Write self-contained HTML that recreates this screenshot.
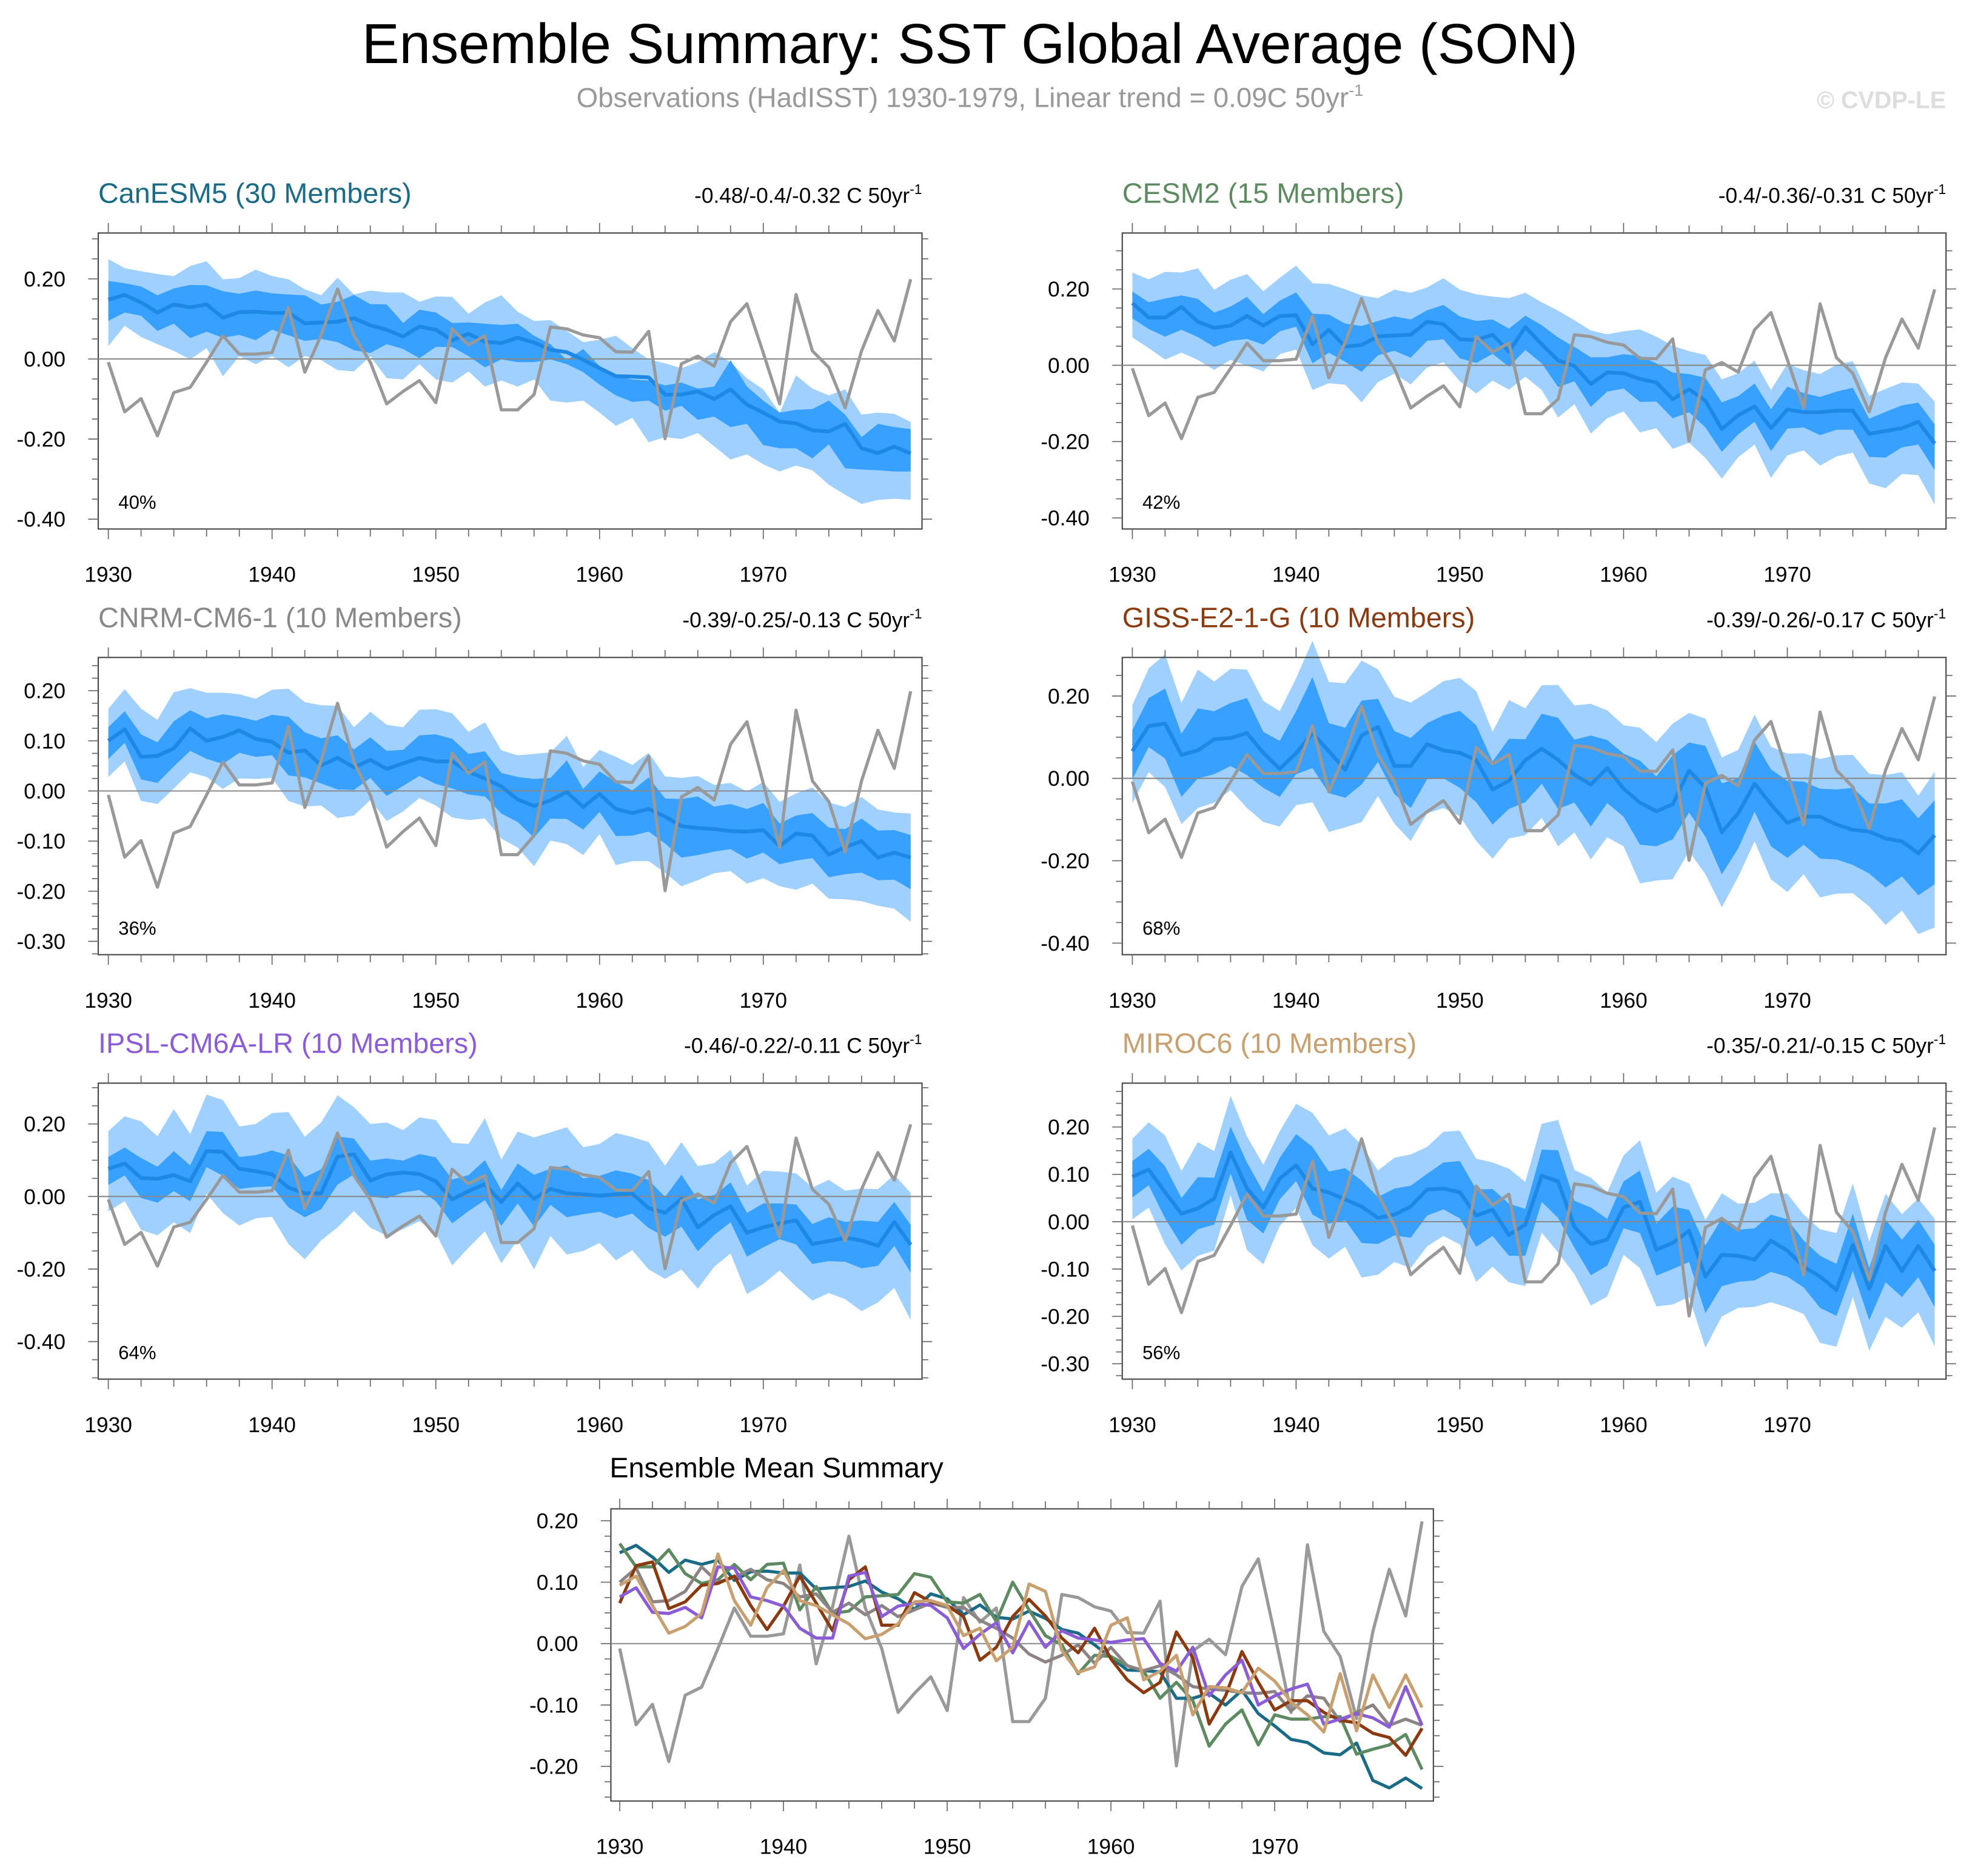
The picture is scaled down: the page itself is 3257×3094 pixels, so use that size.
<!DOCTYPE html>
<html><head><meta charset="utf-8"><style>
html,body{margin:0;padding:0;background:#fff}
svg{display:block;font-family:"Liberation Sans",sans-serif}
</style></head><body>
<svg id="chart" xmlns="http://www.w3.org/2000/svg" width="3257" height="3094" viewBox="0 0 1568 1489.5">
<rect x="0" y="0" width="1568" height="1489.5" fill="#fff"/>
<text x="770" y="50" font-size="44.5" text-anchor="middle" fill="#000">Ensemble Summary: SST Global Average (SON)</text>
<text x="770" y="85" font-size="22" text-anchor="middle" fill="#999">Observations (HadISST) 1930-1979, Linear trend = 0.09C 50yr<tspan font-size="13" dy="-9">-1</tspan></text>
<text x="1545" y="86" font-size="19" font-weight="bold" text-anchor="end" fill="#ddd">© CVDP-LE</text>
<g id="panels"></g>
</svg>
<script>
const startYear = 1930;
const obs = [-0.008,-0.132,-0.099,-0.192,-0.084,-0.071,-0.008,0.058,0.012,0.012,0.016,0.128,-0.033,0.06,0.175,0.058,-0.008,-0.112,-0.081,-0.054,-0.109,0.075,0.035,0.058,-0.127,-0.127,-0.089,0.08,0.075,0.06,0.053,0.018,0.017,0.069,-0.199,-0.012,0.007,-0.018,0.093,0.138,0.015,-0.112,0.161,0.02,-0.021,-0.122,0.02,0.121,0.045,0.199];
const canMean = [0.148,0.16,0.141,0.116,0.136,0.129,0.136,0.103,0.117,0.118,0.115,0.115,0.089,0.091,0.093,0.102,0.084,0.073,0.056,0.081,0.073,0.047,0.063,0.043,0.04,0.053,0.041,0.023,0.017,-0.002,-0.023,-0.043,-0.044,-0.046,-0.089,-0.089,-0.081,-0.1,-0.076,-0.114,-0.134,-0.156,-0.161,-0.178,-0.181,-0.162,-0.223,-0.235,-0.219,-0.236];
const canInHi = [0.195,0.189,0.181,0.159,0.176,0.185,0.184,0.169,0.163,0.171,0.164,0.161,0.159,0.136,0.143,0.16,0.137,0.136,0.09,0.123,0.116,0.09,0.091,0.088,0.085,0.088,0.058,0.037,-0.003,0.025,-0.018,-0.043,-0.051,-0.054,-0.066,-0.059,-0.074,-0.069,-0.003,-0.069,-0.104,-0.134,-0.127,-0.125,-0.104,-0.139,-0.195,-0.162,-0.17,-0.175];
const canInLo = [0.095,0.116,0.108,0.07,0.088,0.052,0.068,0.053,0.06,0.047,0.073,0.059,0.045,0.05,0.042,0.022,0.015,0.037,0.025,0.002,0.03,0.03,0.007,-0.021,-0.001,-0.008,-0.008,-0.001,-0.013,-0.033,-0.064,-0.091,-0.107,-0.104,-0.129,-0.117,-0.152,-0.144,-0.17,-0.162,-0.215,-0.223,-0.223,-0.248,-0.213,-0.273,-0.276,-0.278,-0.281,-0.281];
const canOutHi = [0.249,0.227,0.219,0.212,0.207,0.232,0.244,0.199,0.202,0.223,0.207,0.199,0.174,0.159,0.203,0.161,0.171,0.166,0.166,0.143,0.156,0.155,0.113,0.141,0.159,0.118,0.095,0.097,0.07,0.042,0.048,0.058,0.027,-0.001,-0.011,-0.023,-0.008,0.017,-0.008,-0.048,-0.076,-0.134,-0.041,-0.074,-0.091,-0.076,-0.139,-0.134,-0.137,-0.157];
const canOutLo = [0.032,0.083,0.055,0.037,0.02,-0.001,0.027,-0.043,0.007,-0.013,0.007,-0.021,0.007,-0.003,-0.028,-0.031,0.007,-0.048,-0.051,-0.013,-0.051,-0.059,-0.031,-0.069,-0.054,-0.069,-0.051,-0.104,-0.109,-0.104,-0.134,-0.167,-0.147,-0.208,-0.195,-0.2,-0.185,-0.218,-0.251,-0.238,-0.263,-0.281,-0.266,-0.278,-0.314,-0.339,-0.362,-0.352,-0.349,-0.352];
const cesmMean = [0.163,0.125,0.125,0.153,0.114,0.098,0.104,0.129,0.104,0.129,0.131,0.055,0.093,0.049,0.053,0.076,0.078,0.08,0.114,0.108,0.068,0.066,0.08,0.036,0.1,0.055,0.013,-0.002,-0.049,-0.019,-0.021,-0.036,-0.045,-0.089,-0.063,-0.093,-0.167,-0.131,-0.108,-0.165,-0.116,-0.123,-0.123,-0.119,-0.119,-0.18,-0.172,-0.165,-0.148,-0.205];
const cnrmMean = [0.1,0.123,0.068,0.07,0.085,0.125,0.1,0.108,0.121,0.104,0.098,0.076,0.081,0.051,0.066,0.047,0.062,0.044,0.055,0.066,0.059,0.059,0.038,0.025,0.009,-0.017,-0.03,-0.019,-0.002,-0.032,-0.006,-0.036,-0.044,-0.036,-0.051,-0.07,-0.074,-0.076,-0.08,-0.081,-0.078,-0.11,-0.085,-0.089,-0.127,-0.112,-0.1,-0.133,-0.123,-0.133];
const gissMean = [0.066,0.127,0.133,0.057,0.068,0.095,0.098,0.11,0.062,0.023,0.061,0.11,0.066,0.021,0.104,0.125,0.03,0.03,0.083,0.068,0.062,0.044,-0.027,-0.006,0.044,0.072,0.045,0.009,-0.015,0.025,-0.025,-0.059,-0.08,-0.063,0.019,-0.023,-0.131,-0.085,-0.013,-0.063,-0.108,-0.093,-0.093,-0.112,-0.125,-0.129,-0.146,-0.153,-0.182,-0.138];
const ipslMean = [0.076,0.091,0.051,0.049,0.059,0.042,0.125,0.123,0.076,0.07,0.061,0.025,0.009,0.009,0.11,0.116,0.044,0.061,0.066,0.062,0.042,-0.008,0.015,0.034,-0.015,0.036,-0.006,0.021,0.009,0.006,0.002,0.006,0.008,-0.032,-0.045,-0.006,-0.085,-0.051,-0.027,-0.1,-0.085,-0.074,-0.066,-0.131,-0.123,-0.114,-0.121,-0.136,-0.07,-0.133];
const mirocMean = [0.095,0.11,0.062,0.017,0.028,0.049,0.146,0.07,0.03,0.091,0.119,0.07,0.062,0.047,0.032,0.008,0.015,0.032,0.068,0.07,0.062,0.013,0.025,-0.028,-0.006,0.097,0.085,-0.011,-0.047,-0.038,0.03,0.042,-0.059,-0.045,-0.019,-0.116,-0.07,-0.072,-0.08,-0.04,-0.061,-0.095,-0.116,-0.144,-0.049,-0.142,-0.051,-0.104,-0.051,-0.104];
const spreadInHi = [0.03,0.04,0.05,0.03,0.06,0.04,0.05,0.05,0.03,0.04,0.06,0.08,0.04,0.06,0.05,0.04,0.05,0.04,0.03,0.05,0.06,0.05,0.04,0.06,0.03,0.05,0.06,0.05,0.07,0.04,0.05,0.06,0.05,0.07,0.04,0.06,0.07,0.05,0.06,0.05,0.06,0.05,0.04,0.05,0.06,0.04,0.05,0.06,0.05,0.05];
const spreadInLo = [0.04,0.03,0.05,0.06,0.04,0.05,0.04,0.06,0.05,0.04,0.03,0.05,0.06,0.04,0.07,0.05,0.04,0.06,0.05,0.04,0.05,0.06,0.05,0.04,0.06,0.05,0.07,0.04,0.06,0.05,0.04,0.06,0.05,0.05,0.06,0.07,0.06,0.05,0.04,0.06,0.05,0.04,0.06,0.05,0.05,0.06,0.07,0.05,0.06,0.07];
const spreadOutHi = [0.08,0.10,0.12,0.09,0.14,0.10,0.12,0.11,0.09,0.10,0.13,0.16,0.12,0.15,0.13,0.10,0.12,0.11,0.09,0.12,0.13,0.12,0.10,0.14,0.09,0.11,0.13,0.12,0.14,0.10,0.11,0.13,0.12,0.14,0.10,0.12,0.13,0.11,0.12,0.10,0.12,0.11,0.10,0.12,0.13,0.10,0.11,0.12,0.10,0.11];
const spreadOutLo = [0.09,0.08,0.11,0.12,0.10,0.11,0.09,0.13,0.12,0.10,0.09,0.12,0.14,0.10,0.15,0.12,0.10,0.13,0.12,0.10,0.11,0.14,0.12,0.10,0.13,0.12,0.15,0.10,0.13,0.12,0.10,0.14,0.12,0.13,0.14,0.15,0.13,0.11,0.10,0.13,0.12,0.10,0.14,0.12,0.11,0.13,0.15,0.12,0.14,0.16];
const modelNames = ["CanESM5 (30 Members)","CESM2 (15 Members)","CNRM-CM6-1 (10 Members)","GISS-E2-1-G (10 Members)","IPSL-CM6A-LR (10 Members)","MIROC6 (10 Members)"];
const trendLabels = ["-0.48/-0.4/-0.32 C 50yr","-0.4/-0.36/-0.31 C 50yr","-0.39/-0.25/-0.13 C 50yr","-0.39/-0.26/-0.17 C 50yr","-0.46/-0.22/-0.11 C 50yr","-0.35/-0.21/-0.15 C 50yr"];
const pctLabels = ["40%","42%","36%","68%","64%","56%"];
const yTicks1 = [0.2,0,-0.2,-0.4];
const yTicks2 = [0.2,0.1,0,-0.1,-0.2,-0.3];
const yTicksSum = [0.2,0.1,0,-0.1,-0.2];
const xTickYears = [1930,1940,1950,1960,1970];

const modelColors = ["#1b6b87","#5e8a62","#888888","#8b3a0f","#8a5cd6","#c8a070"];
const sumColors = ["#1b6b87","#5e8a62","#8c8484","#8b3a0f","#8a5cd6","#c8a070"];
const NS = "http://www.w3.org/2000/svg";
const root = document.getElementById("panels");
function mk(tag, attrs, parent){const e=document.createElementNS(NS,tag);for(const k in attrs)e.setAttribute(k,attrs[k]);(parent||root).appendChild(e);return e;}
function fmt(v){return (v<0?"-":"")+Math.abs(v).toFixed(2);}

function drawAxes(g,L){
  const xs=y=>L.x30+(y-startYear)*13;
  const ys=v=>L.zero-v*L.ppu;
  const box=mk("rect",{x:L.x0,y:L.y0,width:L.x1-L.x0,height:L.y1-L.y0,fill:"none",stroke:"#444","stroke-width":1},g);
  
  
  for(let yr=1930;yr<=1980;yr+=2){
    const x=xs(yr); if(x>L.x1) break;
    const len=(yr%10===0)?8:6;
    mk("line",{x1:x,x2:x,y1:L.y0,y2:L.y0-len,stroke:"#666","stroke-width":0.8},g);
    mk("line",{x1:x,x2:x,y1:L.y1,y2:L.y1+len,stroke:"#666","stroke-width":0.8},g);
  }
  const top=(L.zero-L.y0)/L.ppu, bot=(L.zero-L.y1)/L.ppu;
  for(let k=Math.ceil(bot/L.minor);k<=Math.floor(top/L.minor);k++){
    const v=k*L.minor,y=ys(v);
    const major=L.ticks.some(t=>Math.abs(t-v)<1e-6);
    const len=major?8:5;
    mk("line",{x1:L.x0,x2:L.x0-len,y1:y,y2:y,stroke:"#666","stroke-width":0.8},g);
    mk("line",{x1:L.x1,x2:L.x1+len,y1:y,y2:y,stroke:"#666","stroke-width":0.8},g);
  }
  L.ticks.forEach(v=>{
    const t=mk("text",{x:L.x0-26,y:ys(v)+6,"font-size":17,"text-anchor":"end",fill:"#000"},g);
    
    
    t.textContent=fmt(v);
  });
  xTickYears.forEach(yr=>{
    const t=mk("text",{x:xs(yr),y:L.y1+42,"font-size":17,"text-anchor":"middle",fill:"#000"},g);
    
    
    t.textContent=yr;
  });
  const z=mk("line",{x1:L.x0,x2:L.x1,y1:ys(0),y2:ys(0),stroke:"#888","stroke-width":1},g);
  
  
  return {xs,ys,zline:z};
}
function pts(arr,xs,ys){return arr.map((v,i)=>xs(startYear+i).toFixed(2)+","+ys(v).toFixed(2));}
function band(g,hi,lo,xs,ys,color,name){
  const p=pts(hi,xs,ys).concat(pts(lo,xs,ys).reverse());
  const e=mk("polygon",{points:p.join(" "),fill:color,stroke:"none"},g);
  
  
}
function line(g,arr,xs,ys,color,w,name){
  const e=mk("polyline",{points:pts(arr,xs,ys).join(" "),fill:"none",stroke:color,"stroke-width":w,"stroke-linejoin":"round"},g);
  
  
}

const layouts=[
 {x0:78,x1:732,y0:185,y1:420,x30:86,zero:285,ppu:318,ticks:yTicks1,minor:0.05},
 {x0:891,x1:1545,y0:185,y1:420,x30:899,zero:290,ppu:303,ticks:yTicks1,minor:0.05},
 {x0:78,x1:732,y0:522,y1:758,x30:86,zero:628,ppu:398,ticks:yTicks2,minor:0.025},
 {x0:891,x1:1545,y0:522,y1:758,x30:899,zero:618,ppu:327,ticks:yTicks1,minor:0.05},
 {x0:78,x1:732,y0:860,y1:1095,x30:86,zero:950,ppu:288,ticks:yTicks1,minor:0.05},
 {x0:891,x1:1545,y0:860,y1:1095,x30:899,zero:970,ppu:376,ticks:yTicks2,minor:0.025}
];
const means=[canMean,cesmMean,cnrmMean,gissMean,ipslMean,mirocMean];
const widths=[null,[1.0,1.0],[0.9,0.8],[1.7,1.4],[1.1,1.3],[1.1,1.0]];
const slugs=["canesm5","cesm2","cnrm-cm6-1","giss-e2-1-g","ipsl-cm6a-lr","miroc6"];

layouts.forEach((L,p)=>{
  const g=mk("g",{});
  
  
  const m=means[p];
  let inHi,inLo,outHi,outLo;
  if(p===0){inHi=canInHi;inLo=canInLo;outHi=canOutHi;outLo=canOutLo;}
  else{const [a,b]=widths[p];
    inHi=m.map((v,i)=>v+spreadInHi[i]*a);inLo=m.map((v,i)=>v-spreadInLo[i]*a);
    outHi=m.map((v,i)=>v+spreadOutHi[i]*b);outLo=m.map((v,i)=>v-spreadOutLo[i]*b);}
  const xs=y=>L.x30+(y-startYear)*13, ys=v=>L.zero-v*L.ppu;
  band(g,outHi,outLo,xs,ys,"#a0d0ff","range-band");
  band(g,inHi,inLo,xs,ys,"#38a0ff","interquartile-band");
  drawAxes(g,L);
  line(g,m,xs,ys,"#1e88e5",3,"ensemble-mean-line");
  line(g,obs,xs,ys,"#999",2.5,"observations-line");
  const t=mk("text",{x:L.x0,y:L.y0-24,"font-size":22.5,fill:modelColors[p]},g);
  
  
  t.textContent=modelNames[p];
  const r=mk("text",{x:L.x1,y:L.y0-24,"font-size":17,"text-anchor":"end",fill:"#000"},g);
  
  
  r.textContent=trendLabels[p];
  const sup=mk("tspan",{"font-size":11,dy:-7},r); sup.textContent="-1";
  const pc=mk("text",{x:L.x0+16,y:L.y1-16,"font-size":15,fill:"#000"},g);
  
  
  pc.textContent=pctLabels[p];
});

(function(){
  const L={x0:485,x1:1138,y0:1198,y1:1430,x30:492,zero:1305,ppu:487.5,ticks:yTicksSum,minor:0.025};
  const g=mk("g",{});
  
  
  const ax=drawAxes(g,L);
  line(g,obs,ax.xs,ax.ys,"#999",2.5,"observations-line");
  means.forEach((m,i)=>line(g,m,ax.xs,ax.ys,sumColors[i],2.5,slugs[i]+"-mean-line"));
  const t=mk("text",{x:484,y:1173,"font-size":22.5,fill:"#000"},g);
  
  
  t.textContent="Ensemble Mean Summary";
})();
</script>
</body></html>
